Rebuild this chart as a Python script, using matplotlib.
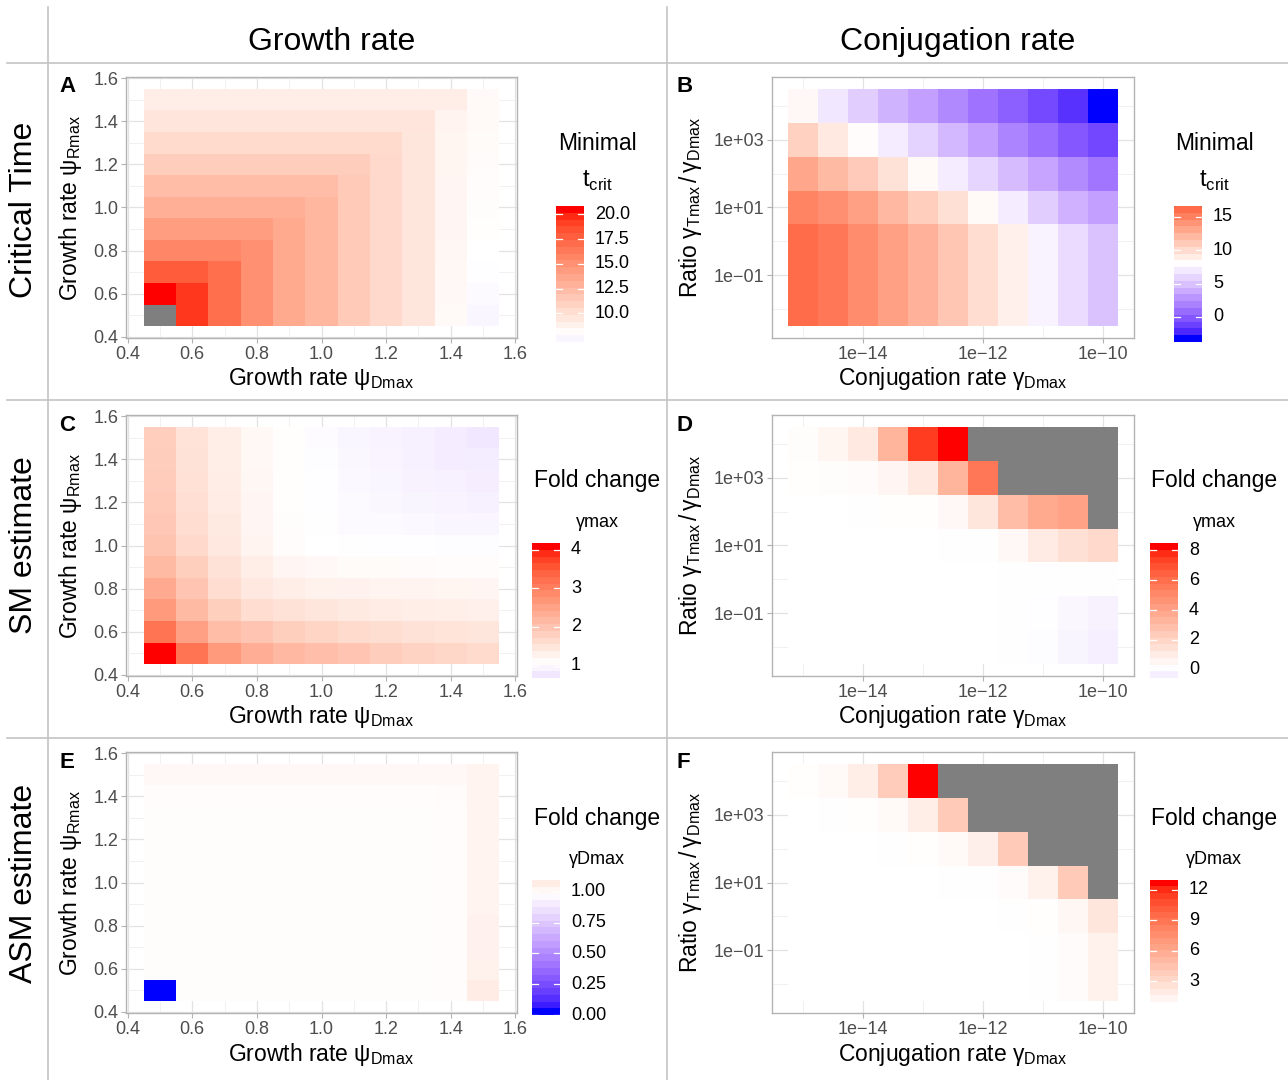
"""Critical time, SM estimate and ASM estimate heatmaps over growth rates
and conjugation rates (red-white-blue diverging fill, grey = not defined)."""

import matplotlib

matplotlib.use("Agg")
import matplotlib.pyplot as plt
import numpy as np
from matplotlib.colors import ListedColormap
from matplotlib.lines import Line2D

plt.rcParams["font.family"] = ["Liberation Sans", "DejaVu Sans"]

FIG_W, FIG_H = 1288, 1080
NAN = np.nan

# ---- data -------------------------------------------------------------
growth_rate = [0.5, 0.6, 0.7, 0.8, 0.9, 1.0, 1.1, 1.2, 1.3, 1.4, 1.5]
log10_conjugation = [-15.0, -14.5, -14.0, -13.5, -13.0, -12.5, -12.0, -11.5, -11.0, -10.5, -10.0]
log10_ratio = [-2, -1, 0, 1, 2, 3, 4]

# rows: psi_Rmax from 0.5 (bottom) to 1.5 (top); columns: psi_Dmax 0.5 .. 1.5
crit_time_growth = [
    [NAN, 19.7, 17.1, 15.1, 13.5, 12.5, 11.3, 10.2, 9.3, 8.0, 7.1],
    [20.84, 19.7, 17.1, 15.1, 13.5, 12.5, 11.3, 10.2, 9.3, 8.05, 7.3],
    [18.1, 18.1, 17.1, 15.1, 13.5, 12.5, 11.3, 10.2, 9.3, 8.1, 7.5],
    [15.7, 15.7, 15.7, 15.1, 13.5, 12.5, 11.3, 10.2, 9.3, 8.15, 7.6],
    [14.3, 14.3, 14.3, 14.3, 13.5, 12.5, 11.3, 10.2, 9.3, 8.2, 7.7],
    [13.1, 13.1, 13.1, 13.1, 13.1, 12.5, 11.3, 10.2, 9.3, 8.2, 7.75],
    [12.2, 12.2, 12.2, 12.2, 12.2, 12.2, 11.3, 10.2, 9.3, 8.25, 7.8],
    [11.0, 11.0, 11.0, 11.0, 11.0, 11.0, 11.0, 10.2, 9.3, 8.3, 7.85],
    [10.1, 10.1, 10.1, 10.1, 10.1, 10.1, 10.1, 10.1, 9.3, 8.35, 7.9],
    [9.4, 9.4, 9.4, 9.4, 9.4, 9.4, 9.4, 9.4, 9.4, 8.4, 7.95],
    [8.8, 8.8, 8.8, 8.8, 8.8, 8.8, 8.8, 8.8, 8.8, 8.8, 8.0],
]

sm_growth = [
    [4.17, 3.19, 2.65, 2.33, 2.17, 2.07, 1.95, 1.82, 1.73, 1.67, 1.60],
    [3.19, 2.55, 2.10, 1.95, 1.80, 1.70, 1.60, 1.54, 1.48, 1.45, 1.42],
    [2.65, 2.14, 1.80, 1.57, 1.48, 1.42, 1.35, 1.32, 1.29, 1.27, 1.25],
    [2.39, 1.95, 1.57, 1.38, 1.29, 1.24, 1.21, 1.19, 1.18, 1.17, 1.16],
    [2.14, 1.80, 1.48, 1.29, 1.16, 1.11, 1.08, 1.07, 1.06, 1.05, 1.05],
    [1.98, 1.63, 1.38, 1.19, 1.05, 1.00, 0.99, 0.98, 0.97, 0.96, 0.96],
    [1.92, 1.57, 1.35, 1.16, 1.04, 0.99, 0.94, 0.92, 0.90, 0.88, 0.87],
    [1.88, 1.53, 1.32, 1.15, 1.03, 0.98, 0.92, 0.89, 0.86, 0.84, 0.82],
    [1.85, 1.50, 1.30, 1.14, 1.03, 0.97, 0.90, 0.87, 0.83, 0.80, 0.78],
    [1.83, 1.48, 1.29, 1.13, 1.02, 0.96, 0.89, 0.85, 0.81, 0.77, 0.74],
    [1.81, 1.46, 1.28, 1.12, 1.02, 0.95, 0.88, 0.84, 0.80, 0.76, 0.68],
]

asm_growth = [
    [0.00, 1.01, 1.01, 1.01, 1.01, 1.01, 1.01, 1.01, 1.01, 1.015, 1.096],
    [1.01, 1.01, 1.01, 1.01, 1.01, 1.01, 1.01, 1.01, 1.01, 1.015, 1.07],
    [1.01, 1.01, 1.01, 1.01, 1.01, 1.01, 1.01, 1.01, 1.01, 1.015, 1.065],
    [1.01, 1.01, 1.01, 1.01, 1.01, 1.01, 1.01, 1.01, 1.01, 1.015, 1.065],
    [1.01, 1.01, 1.01, 1.01, 1.01, 1.01, 1.01, 1.01, 1.01, 1.015, 1.06],
    [1.01, 1.01, 1.01, 1.01, 1.01, 1.01, 1.01, 1.01, 1.01, 1.015, 1.06],
    [1.01, 1.01, 1.01, 1.01, 1.01, 1.01, 1.01, 1.01, 1.01, 1.015, 1.06],
    [1.01, 1.01, 1.01, 1.01, 1.01, 1.01, 1.01, 1.01, 1.01, 1.015, 1.06],
    [1.012, 1.012, 1.012, 1.012, 1.012, 1.012, 1.012, 1.012, 1.012, 1.015, 1.06],
    [1.015, 1.015, 1.015, 1.015, 1.015, 1.015, 1.015, 1.015, 1.015, 1.02, 1.06],
    [1.035, 1.035, 1.035, 1.035, 1.035, 1.035, 1.035, 1.035, 1.035, 1.035, 1.06],
]

# rows: log10 ratio gamma_Tmax/gamma_Dmax from -2 (bottom) to 4 (top)
crit_time_conj = [
    [16.6, 16.0, 14.9, 13.8, 12.7, 11.5, 10.1, 8.9, 7.4, 6.2, 4.9],
    [16.6, 16.0, 14.9, 13.8, 12.7, 11.5, 10.1, 8.9, 7.4, 6.2, 4.9],
    [16.6, 16.0, 14.9, 13.8, 12.7, 11.5, 10.1, 8.9, 7.4, 6.2, 4.9],
    [15.3, 14.7, 13.8, 12.3, 11.0, 9.9, 8.35, 7.1, 5.5, 4.1, 3.2],
    [13.4, 12.2, 11.2, 9.8, 8.35, 7.1, 5.9, 4.6, 3.4, 2.1, 1.0],
    [10.8, 9.4, 8.2, 7.1, 5.8, 4.4, 3.2, 1.8, 0.7, -0.5, -1.3],
    [8.4, 6.8, 5.5, 4.2, 3.2, 2.0, 0.9, -0.1, -1.2, -2.3, -3.75],
]

sm_conj = [
    [0.0, 0.0, 0.0, 0.0, 0.0, 0.0, 0.0, -0.04, -0.1, -0.35, -0.56],
    [0.0, 0.0, 0.0, 0.0, 0.0, 0.0, 0.0, -0.03, -0.08, -0.3, -0.45],
    [0.0, 0.0, 0.0, 0.0, 0.0, 0.0, 0.01, 0.02, 0.02, 0.02, 0.02],
    [0.0, 0.0, 0.0, 0.0, 0.01, 0.02, 0.03, 0.3, 0.9, 1.4, 1.7],
    [0.0, 0.0, 0.02, 0.05, 0.05, 0.3, 1.1, 2.9, 3.8, 4.1, NAN],
    [0.05, 0.1, 0.15, 0.4, 1.0, 3.3, 5.8, NAN, NAN, NAN, NAN],
    [0.1, 0.45, 1.0, 3.3, 7.7, 8.5, NAN, NAN, NAN, NAN, NAN],
]

asm_conj = [
    [0.38, 0.38, 0.38, 0.38, 0.38, 0.38, 0.38, 0.38, 0.45, 0.65, 1.3],
    [0.38, 0.38, 0.38, 0.38, 0.38, 0.38, 0.38, 0.38, 0.45, 0.65, 1.3],
    [0.38, 0.38, 0.38, 0.38, 0.38, 0.38, 0.38, 0.41, 0.5, 0.9, 2.0],
    [0.38, 0.38, 0.38, 0.38, 0.38, 0.42, 0.45, 0.65, 1.25, 3.9, NAN],
    [0.38, 0.38, 0.39, 0.45, 0.5, 0.75, 1.4, 3.9, NAN, NAN, NAN],
    [0.4, 0.42, 0.5, 0.75, 1.5, 3.9, NAN, NAN, NAN, NAN, NAN],
    [0.5, 0.75, 1.5, 3.8, 12.98, NAN, NAN, NAN, NAN, NAN, NAN],
]

# midpoints of the diverging fill scales
crit_time_growth_mid, crit_time_conj_mid = 7.6, 8.0
sm_growth_mid, sm_conj_mid = 1.0, 0.0
asm_growth_mid, asm_conj_mid = 1.0, 0.38

# ---- colour scale (ggplot-like gradient2, interpolated in CIELAB) -----
M_RGB2XYZ = np.array([[0.4124564, 0.3575761, 0.1804375],
                      [0.2126729, 0.7151522, 0.0721750],
                      [0.0193339, 0.1191920, 0.9503041]])
WHITE_POINT = np.array([0.95047, 1.0, 1.08883])


def srgb_to_lab(rgb):
    rgb = np.asarray(rgb, float)
    lin = np.where(rgb <= 0.04045, rgb / 12.92, ((rgb + 0.055) / 1.055) ** 2.4)
    xyz = lin @ M_RGB2XYZ.T / WHITE_POINT
    f = np.where(xyz > 0.008856, np.cbrt(xyz), 7.787 * xyz + 16 / 116)
    return np.stack([116 * f[..., 1] - 16, 500 * (f[..., 0] - f[..., 1]), 200 * (f[..., 1] - f[..., 2])], axis=-1)


def lab_to_srgb(lab):
    fy = (lab[..., 0] + 16) / 116
    f = np.stack([fy + lab[..., 1] / 500, fy, fy - lab[..., 2] / 200], axis=-1)
    xyz = np.where(f ** 3 > 0.008856, f ** 3, (f - 16 / 116) / 7.787) * WHITE_POINT
    lin = np.clip(xyz @ np.linalg.inv(M_RGB2XYZ).T, 0, 1)
    return np.clip(np.where(lin <= 0.0031308, 12.92 * lin, 1.055 * lin ** (1 / 2.4) - 0.055), 0, 1)


def make_gradient2(n=511):
    lab_low, lab_mid, lab_high = srgb_to_lab([[0, 0, 1], [1, 1, 1], [1, 0, 0]])
    s = np.linspace(0, 1, n)[:, None]
    lower = lab_low + (lab_mid - lab_low) * np.clip(s * 2, 0, 1)
    upper = lab_mid + (lab_high - lab_mid) * np.clip((s - 0.5) * 2, 0, 1)
    cmap = ListedColormap(lab_to_srgb(np.where(s < 0.5, lower, upper)))
    cmap.set_bad("#7F7F7F")
    return cmap


GRADIENT2 = make_gradient2()


def rescale_mid(values, lo, hi, mid):
    span = max(abs(lo - mid), abs(hi - mid))
    return 0.5 + (np.asarray(values, float) - mid) / (2 * span)


# ---- layout helpers ---------------------------------------------------
def px_axes(fig, left, top, right, bottom):
    return fig.add_axes([left / FIG_W, 1 - bottom / FIG_H, (right - left) / FIG_W, (bottom - top) / FIG_H])


def px_text(fig, x, y, s, **kwargs):
    return fig.text(x / FIG_W, 1 - y / FIG_H, s, **kwargs)


def edges_from_centers(centers):
    c = np.asarray(centers, float)
    half = (c[1] - c[0]) / 2
    return np.concatenate([[c[0] - half], (c[:-1] + c[1:]) / 2, [c[-1] + half]])


def style_axes(ax):
    for spine in ax.spines.values():
        spine.set_color("#B3B3B3")
        spine.set_linewidth(1.0)
    ax.grid(which="major", color="#E3E3E3", linewidth=0.9)
    ax.grid(which="minor", color="#EFEFEF", linewidth=0.6)
    ax.set_axisbelow(True)
    ax.tick_params(which="major", length=3.5, width=0.8, color="#B3B3B3", labelcolor="#4D4D4D", labelsize=13, pad=2)
    ax.tick_params(which="minor", length=0)


def draw_heatmap(ax, x_centers, y_centers, values, mid):
    values = np.asarray(values, float)
    lo, hi = np.nanmin(values), np.nanmax(values)
    x_edges, y_edges = edges_from_centers(x_centers), edges_from_centers(y_centers)
    ax.pcolormesh(x_edges, y_edges, np.ma.masked_invalid(rescale_mid(values, lo, hi, mid)),
                  cmap=GRADIENT2, vmin=0, vmax=1, zorder=2)
    pad_x = 0.05 * (x_edges[-1] - x_edges[0])
    pad_y = 0.05 * (y_edges[-1] - y_edges[0])
    ax.set_xlim(x_edges[0] - pad_x, x_edges[-1] + pad_x)
    ax.set_ylim(y_edges[0] - pad_y, y_edges[-1] + pad_y)
    style_axes(ax)


def draw_colorbar(fig, box, values, mid, breaks, fmt, title, subtitle, sub_size, title_x, title_y, sub_y):
    left, top, right, bottom = box
    values = np.asarray(values, float)
    lo, hi = np.nanmin(values), np.nanmax(values)
    cax = px_axes(fig, left, top, right, bottom)
    samples = np.linspace(lo, hi, 20)
    cax.pcolormesh([0, 1], np.linspace(lo, hi, 21), rescale_mid(samples, lo, hi, mid).reshape(-1, 1),
                   cmap=GRADIENT2, vmin=0, vmax=1)
    for b in breaks:
        cax.plot([0, 0.2], [b, b], color="white", lw=0.9)
        cax.plot([0.8, 1], [b, b], color="white", lw=0.9)
        y_px = bottom - (b - lo) / (hi - lo) * (bottom - top)
        px_text(fig, right + 11, y_px, fmt.format(b), fontsize=13, ha="left", va="center")
    cax.set_xlim(0, 1)
    cax.set_ylim(lo, hi)
    cax.axis("off")
    px_text(fig, title_x, title_y, title, fontsize=16.5, ha="center", va="center")
    px_text(fig, title_x, sub_y, subtitle, fontsize=sub_size, ha="center", va="center")


def main() -> None:
    fig = plt.figure(figsize=(FIG_W / 100, FIG_H / 100), dpi=100)
    fig.patch.set_facecolor("white")

    # table-like frame
    line_kw = dict(color="#C4C4C4", linewidth=1.2, transform=fig.transFigure)
    for x in (48, 667):
        fig.add_artist(Line2D([x / FIG_W, x / FIG_W], [0, 1 - 7 / FIG_H], **line_kw))
    for y in (63, 400, 738):
        fig.add_artist(Line2D([7 / FIG_W, 1], [1 - y / FIG_H, 1 - y / FIG_H], **line_kw))

    px_text(fig, 332, 42, "Growth rate", fontsize=23, ha="center", va="center")
    px_text(fig, 958, 42, "Conjugation rate", fontsize=23, ha="center", va="center")
    for label, y in [("Critical Time", 210), ("SM estimate", 545), ("ASM estimate", 883)]:
        px_text(fig, 24, y, label, fontsize=23, rotation=90, ha="center", va="center")

    row_tops = [77, 415, 752]
    row_bottoms = [338, 676, 1013]
    tcrit = r"t$_{\mathregular{crit}}$"
    growth_panels = [
        ("A", crit_time_growth, crit_time_growth_mid, [10, 12.5, 15, 17.5, 20], "{:.1f}", "Minimal", tcrit, 17, (556, 206, 584, 342)),
        ("C", sm_growth, sm_growth_mid, [1, 2, 3, 4], "{:g}", "Fold change", "γmax", 13, (532, 543, 560, 678)),
        ("E", asm_growth, asm_growth_mid, [0, 0.25, 0.5, 0.75, 1.0], "{:.2f}", "Fold change", "γDmax", 13, (532, 880, 560, 1015)),
    ]
    conj_panels = [
        ("B", crit_time_conj, crit_time_conj_mid, [0, 5, 10, 15], "{:g}", "Minimal", tcrit, 17, (1174, 206, 1202, 342)),
        ("D", sm_conj, sm_conj_mid, [0, 2, 4, 6, 8], "{:g}", "Fold change", "γmax", 13, (1150, 543, 1178, 678)),
        ("F", asm_conj, asm_conj_mid, [3, 6, 9, 12], "{:g}", "Fold change", "γDmax", 13, (1150, 880, 1178, 1008)),
    ]
    title_rows = [(144, 181), (481, 522), (818, 860)]

    for i, (letter, values, mid, breaks, fmt, title, subtitle, sub_size, box) in enumerate(growth_panels):
        top, bottom = row_tops[i], row_bottoms[i]
        ax = px_axes(fig, 126, top, 517, bottom)
        draw_heatmap(ax, growth_rate, growth_rate, values, mid)
        ticks = [0.4, 0.6, 0.8, 1.0, 1.2, 1.4, 1.6]
        ax.set_xticks(ticks, [f"{t:.1f}" for t in ticks])
        ax.set_yticks(ticks, [f"{t:.1f}" for t in ticks])
        ax.set_xticks([0.5, 0.7, 0.9, 1.1, 1.3, 1.5], minor=True)
        ax.set_yticks([0.5, 0.7, 0.9, 1.1, 1.3, 1.5], minor=True)
        px_text(fig, 59, top + 10, letter, fontsize=16, fontweight="bold", ha="left", va="center")
        px_text(fig, 70, (top + bottom) / 2, r"Growth rate $\mathregular{ψ_{Rmax}}$", fontsize=16.5,
                rotation=90, ha="center", va="center")
        px_text(fig, 321, bottom + 41, r"Growth rate $\mathregular{ψ_{Dmax}}$", fontsize=16.5, ha="center", va="center")
        draw_colorbar(fig, box, values, mid, breaks, fmt, title, subtitle, sub_size, 597, *title_rows[i])

    for i, (letter, values, mid, breaks, fmt, title, subtitle, sub_size, box) in enumerate(conj_panels):
        top, bottom = row_tops[i], row_bottoms[i]
        ax = px_axes(fig, 772, top, 1134, bottom)
        draw_heatmap(ax, log10_conjugation, log10_ratio, values, mid)
        ax.set_xticks([-14, -12, -10], ["1e\u221214", "1e\u221212", "1e\u221210"])
        ax.set_yticks([-1, 1, 3], ["1e\u221201", "1e+01", "1e+03"])
        ax.set_xticks([-15, -13, -11], minor=True)
        ax.set_yticks([-2, 0, 2, 4], minor=True)
        px_text(fig, 677, top + 10, letter, fontsize=16, fontweight="bold", ha="left", va="center")
        px_text(fig, 690, (top + bottom) / 2, r"Ratio $\mathregular{γ_{Tmax}\,/\,γ_{Dmax}}$", fontsize=16.5,
                rotation=90, ha="center", va="center")
        px_text(fig, 953, bottom + 41, r"Conjugation rate $\mathregular{γ_{Dmax}}$", fontsize=16.5, ha="center", va="center")
        draw_colorbar(fig, box, values, mid, breaks, fmt, title, subtitle, sub_size, 1214, *title_rows[i])

    fig.savefig("out.png", dpi=100, facecolor="white")
    plt.close(fig)


if __name__ == "__main__":
    main()
